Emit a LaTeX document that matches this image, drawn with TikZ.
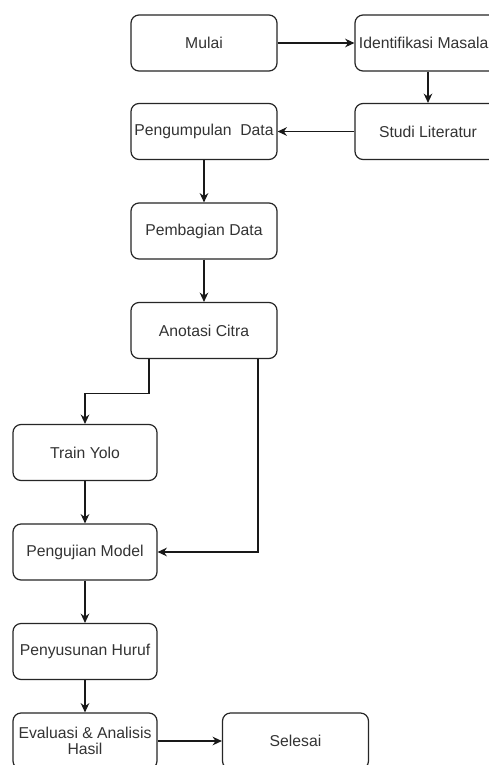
\documentclass[tikz,border=0pt]{standalone}
\usepackage{fontspec}
\setmainfont{Liberation Sans}
\usetikzlibrary{calc,arrows.meta}
\begin{document}
\begin{tikzpicture}[x=0.75pt,y=-0.75pt,
  box/.style={draw=black!85,line width=0.9pt,rounded corners=6pt,minimum width=109.5pt,minimum height=42pt,inner sep=0pt,text=black!80,font=\fontsize{11.8}{13}\selectfont,align=center},
  sbox/.style={box,minimum width=108pt},
  arr/.style={draw=black!90,line width=0.9pt,-{Stealth[length=7pt,width=6.5pt]}}]
\useasboundingbox[fill=white] (0,0) rectangle (489,765);
\clip (0,0) rectangle (489,765);
\node[box] (mulai) at (204,43) {Mulai};
\node[box] (ident) at (428,43) {Identifikasi Masalah};
\node[box] (studi) at (428,131.5) {Studi Literatur};
\node[box] (kumpul) at (204,131.5) {Pengumpulan\ \ Data};
\node[box] (bagi) at (204,231) {Pembagian Data};
\node[box] (anotasi) at (204,330.5) {Anotasi Citra};
\node[sbox] (train) at (85,452.5) {Train Yolo};
\node[sbox] (uji) at (85,552) {Pengujian Model};
\node[sbox] (susun) at (85,651.5) {Penyusunan Huruf};
\node[sbox] (eval) at (85,741) {Evaluasi \& Analisis\\[-1pt]Hasil};
\node[box] (selesai) at (295.5,741) {Selesai};
\draw[arr] (mulai) -- (ident);
\draw[arr] (ident) -- (studi);
\draw[arr] (studi) -- (kumpul);
\draw[arr] (kumpul) -- (bagi);
\draw[arr] (bagi) -- (anotasi);
\draw[arr] ($(anotasi.south)+(-55,0)$) -- ++(0,34) -| (train.north);
\draw[arr] ($(anotasi.south)+(54,0)$) |- (uji.east);
\draw[arr] (train) -- (uji);
\draw[arr] (uji) -- (susun);
\draw[arr] (susun) -- (eval);
\draw[arr] (eval) -- (selesai);
\end{tikzpicture}
\end{document}
